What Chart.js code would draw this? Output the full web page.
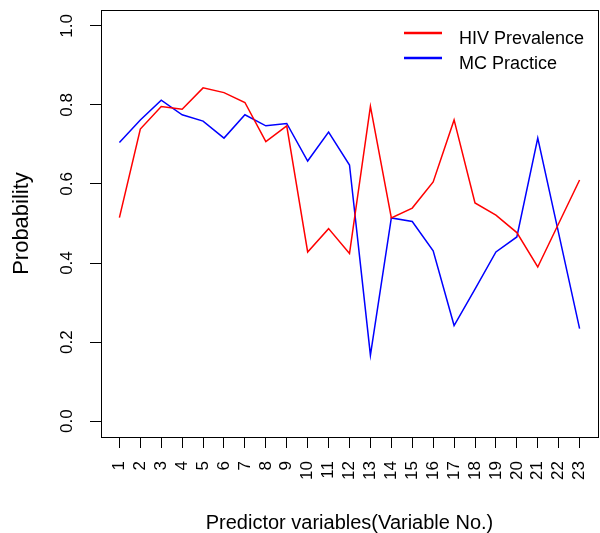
<!DOCTYPE html>
<html>
<head>
<meta charset="utf-8">
<script src="https://cdn.jsdelivr.net/npm/chart.js@4"></script>
<style>
  html, body { margin: 0; padding: 0; background: #fff; }
  #wrap { width: 600px; height: 533px; }
</style>
</head>
<body>
<div id="wrap"><canvas id="c" width="600" height="533"></canvas></div>
<script>
// Predictor variable numbers on the x axis
const variableNo = [1, 2, 3, 4, 5, 6, 7, 8, 9, 10, 11, 12, 13, 14, 15, 16, 17, 18, 19, 20, 21, 22, 23];

// Probability for each predictor variable
const hivPrevalence = [0.515, 0.739, 0.796, 0.789, 0.843, 0.831, 0.806, 0.707, 0.747, 0.428, 0.487, 0.424,
                       0.796, 0.514, 0.539, 0.605, 0.762, 0.552, 0.521, 0.477, 0.390, 0.500, 0.610];
const mcPractice    = [0.705, 0.762, 0.812, 0.775, 0.759, 0.716, 0.775, 0.747, 0.753, 0.658, 0.731, 0.648,
                       0.167, 0.514, 0.505, 0.431, 0.242, 0.334, 0.428, 0.466, 0.716, 0.475, 0.234];

const seriesNames = ['HIV Prevalence', 'MC Practice'];
const yTicks = [0.0, 0.2, 0.4, 0.6, 0.8, 1.0];

// axis ranges padded by 4% on each side
const xLo = Math.min(...variableNo), xHi = Math.max(...variableNo);
const yLo = 0, yHi = 1;
const xPad = 0.04 * (xHi - xLo), yPad = 0.04 * (yHi - yLo);

const FONT = '"Liberation Sans", Arial, Helvetica, sans-serif';

const toPoints = vals => vals.map((v, i) => ({ x: variableNo[i], y: v }));

// fixed axis sizes, no extra room reserved for overhanging labels
const fixSize = (prop, size) => s => {
  s[prop] = size;
  s.paddingTop = 0; s.paddingBottom = 0; s.paddingLeft = 0; s.paddingRight = 0;
};

// frame around the plotting region
const boxPlugin = {
  id: 'plotBox',
  afterDatasetsDraw(chart) {
    const { ctx, chartArea: a } = chart;
    ctx.save();
    ctx.strokeStyle = '#000';
    ctx.lineWidth = 1;
    ctx.strokeRect(Math.round(a.left) + 0.5, Math.round(a.top) + 0.5,
                   Math.round(a.right - a.left), Math.round(a.bottom - a.top));
    ctx.restore();
  }
};

// line-style legend in the top-right corner of the plot
const lineLegend = {
  id: 'lineLegend',
  afterDraw(chart) {
    const { ctx, chartArea: a } = chart;
    ctx.save();
    ctx.font = '18px ' + FONT;
    ctx.textBaseline = 'alphabetic';
    ctx.textAlign = 'left';
    chart.data.datasets.forEach((ds, i) => {
      const y = a.top + 23 + i * 25;
      ctx.strokeStyle = ds.borderColor;
      ctx.lineWidth = 2.5;
      ctx.beginPath();
      ctx.moveTo(a.right - 194, y);
      ctx.lineTo(a.right - 156, y);
      ctx.stroke();
      ctx.fillStyle = '#000';
      ctx.fillText(ds.label, a.right - 139, y + 11);
    });
    ctx.restore();
  }
};

new Chart(document.getElementById('c'), {
  type: 'line',
  data: {
    datasets: [
      { label: seriesNames[0], data: toPoints(hivPrevalence), borderColor: '#ff0000', backgroundColor: '#ff0000',
        borderWidth: 1.5, pointRadius: 0, tension: 0, fill: false },
      { label: seriesNames[1], data: toPoints(mcPractice), borderColor: '#0000ff', backgroundColor: '#0000ff',
        borderWidth: 1.5, pointRadius: 0, tension: 0, fill: false }
    ]
  },
  options: {
    responsive: false,
    animation: false,
    devicePixelRatio: 1,
    layout: { padding: { left: 0, right: 2, top: 10, bottom: 0 } },
    plugins: { legend: { display: false }, tooltip: { enabled: false } },
    scales: {
      x: {
        type: 'linear',
        min: xLo - xPad,
        max: xHi + xPad,
        afterBuildTicks: s => { s.ticks = variableNo.map(v => ({ value: v })); },
        afterFit: fixSize('height', 96),
        grid: { display: true, drawOnChartArea: false, drawTicks: true, tickLength: 11, color: '#000', lineWidth: 1 },
        border: { display: true, color: '#000', width: 1 },
        ticks: {
          autoSkip: false, minRotation: 90, maxRotation: 90, padding: 13,
          color: '#000', font: { family: FONT, size: 17 },
          callback: v => String(v)
        },
        title: {
          display: true, text: 'Predictor variables(Variable No.)', color: '#000',
          font: { family: FONT, size: 20, lineHeight: 1 }, padding: { top: 0, bottom: 0 }
        }
      },
      y: {
        type: 'linear',
        min: yLo - yPad,
        max: yHi + yPad,
        afterBuildTicks: s => { s.ticks = yTicks.map(v => ({ value: v })); },
        afterFit: fixSize('width', 101),
        grid: { display: true, drawOnChartArea: false, drawTicks: true, tickLength: 11, color: '#000', lineWidth: 1 },
        border: { display: true, color: '#000', width: 1 },
        ticks: {
          autoSkip: false, minRotation: 90, maxRotation: 90, crossAlign: 'center', padding: 11,
          color: '#000', font: { family: FONT, size: 17 },
          callback: v => Number(v).toFixed(1)
        },
        title: {
          display: true, text: 'Probability', color: '#000',
          font: { family: FONT, size: 22, lineHeight: 1 }, padding: { top: 11, bottom: 0 }
        }
      }
    }
  },
  plugins: [boxPlugin, lineLegend]
});
</script>
</body>
</html>
